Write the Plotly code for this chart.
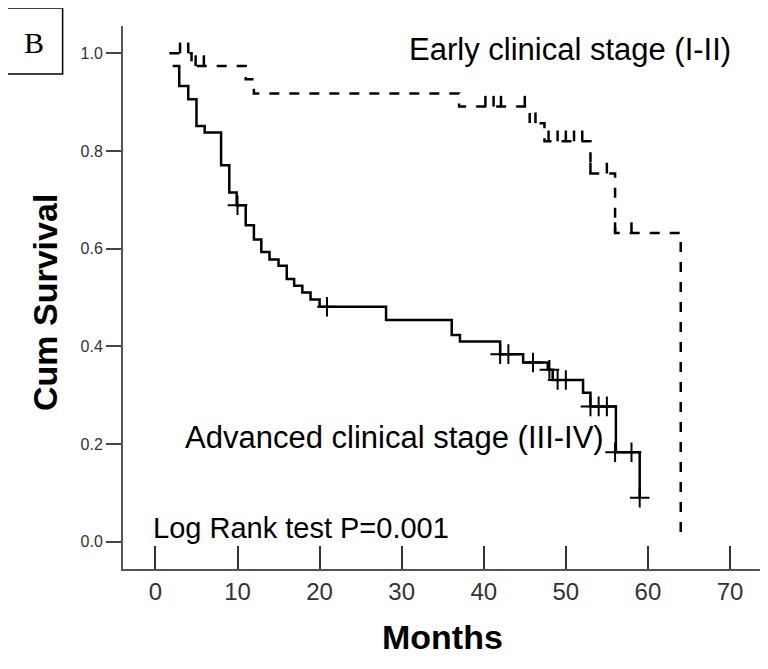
import plotly.graph_objects as go

# ---- data ----
adv_time = [2.1, 2.9, 4.0, 5.0, 6.0, 8.0, 9.0, 9.9, 11.0, 12.0, 12.9, 13.9, 15.0, 16.0, 16.9,
            17.9, 18.9, 20.0, 28.1, 36.1, 37.1, 42.0, 44.8, 47.8, 48.4, 52.1, 53.0, 56.1, 59.0]
adv_surv = [0.974, 0.933, 0.906, 0.851, 0.838, 0.771, 0.715, 0.689, 0.648, 0.619, 0.593, 0.578,
            0.565, 0.538, 0.524, 0.510, 0.496, 0.481, 0.454, 0.423, 0.410, 0.384, 0.367, 0.352,
            0.331, 0.305, 0.277, 0.183, 0.090]
adv_cens_time = [10.0, 20.9, 42.0, 43.0, 46.0, 48.0, 49.0, 50.0, 53.0, 54.0, 55.0, 56.0, 58.0, 59.0]
adv_cens_surv = [0.689, 0.481, 0.384, 0.384, 0.367, 0.352, 0.331, 0.331, 0.277, 0.277, 0.277,
                 0.183, 0.183, 0.090]

early_time = [1.7, 4.4, 11.0, 12.0, 37.0, 45.6, 47.4, 53.0, 56.0, 64.0]
early_surv = [1.000, 0.974, 0.947, 0.918, 0.891, 0.857, 0.820, 0.754, 0.632, 0.000]
early_cens_time = [3.0, 4.0, 4.9, 5.9, 40.2, 41.2, 42.1, 45.0, 46.3, 47.9, 49.0, 50.0, 51.0,
                   52.0, 53.0, 55.0, 56.0, 58.0]
early_cens_surv = [1.0, 1.0, 0.974, 0.974, 0.891, 0.891, 0.891, 0.891, 0.857, 0.820, 0.820,
                   0.820, 0.820, 0.820, 0.754, 0.754, 0.632, 0.632]

x_ticks = [0, 10, 20, 30, 40, 50, 60, 70]
y_ticks = [0.0, 0.2, 0.4, 0.6, 0.8, 1.0]

label_early = "Early clinical stage (I-II)"
label_adv = "Advanced clinical stage (III-IV)"
label_test = "Log Rank test P=0.001"
panel_letter = "B"
x_title = "Months"
y_title = "Cum Survival"

TICK_UP = 0.022  # height of censor tick on dashed curve (style)

fig = go.Figure()

# early stage: dashed step curve
fig.add_trace(go.Scatter(
    x=early_time, y=early_surv, mode="lines", line_shape="hv",
    line=dict(color="black", width=2.5, dash="10px,10px"),
    hoverinfo="skip", showlegend=False))

# censor ticks for early stage (short vertical marks above the line)
cx, cy = [], []
for t, s in zip(early_cens_time, early_cens_surv):
    cx += [t, t, None]
    cy += [s, s + TICK_UP, None]
fig.add_trace(go.Scatter(
    x=cx, y=cy, mode="lines", line=dict(color="black", width=2.5),
    hoverinfo="skip", showlegend=False))

# advanced stage: solid step curve
fig.add_trace(go.Scatter(
    x=adv_time, y=adv_surv, mode="lines", line_shape="hv",
    line=dict(color="black", width=2.5),
    hoverinfo="skip", showlegend=False))

fig.add_trace(go.Scatter(
    x=adv_cens_time, y=adv_cens_surv, mode="markers",
    marker=dict(symbol="cross-thin-open", size=14, color="black",
                line=dict(color="black", width=2)),
    hoverinfo="skip", showlegend=False))

fig.update_layout(
    width=760, height=661,
    margin=dict(l=115, r=6, t=18, b=100),
    paper_bgcolor="white", plot_bgcolor="white",
    font=dict(family="Liberation Sans, Arial, sans-serif", color="black"),
    xaxis=dict(
        range=[-3.95, 73.9], tickvals=x_ticks, ticktext=[str(v) for v in x_ticks],
        ticks="inside", ticklen=23, tickwidth=2, tickcolor="#333",
        showline=True, linecolor="#555", linewidth=2,
        showgrid=False, zeroline=False, automargin=False,
        tickfont=dict(size=24, color="#333"),
    ),
    yaxis=dict(
        range=[-0.056, 1.056], tickvals=y_ticks, ticktext=[f"{v:.1f}" for v in y_ticks],
        ticks="outside", ticklen=15, tickwidth=2, tickcolor="#444",
        showline=True, linecolor="#555", linewidth=2,
        showgrid=False, zeroline=False, automargin=False,
        tickfont=dict(size=16, color="#333"),
    ),
    annotations=[
        dict(text=label_early, x=30.6, y=1.007, xref="x", yref="y", xanchor="left",
             yanchor="middle", showarrow=False, font=dict(size=31, color="black")),
        dict(text=label_adv, x=3.35, y=0.213, xref="x", yref="y", xanchor="left",
             yanchor="middle", showarrow=False, font=dict(size=31, color="black")),
        dict(text=label_test, x=-0.5, y=0.027, xref="x", yref="y", xanchor="left",
             yanchor="middle", showarrow=False, font=dict(size=29, color="black")),
        dict(text=f"<b>{x_title}</b>", x=0.5, y=-0.125, xref="paper", yref="paper",
             xanchor="center", yanchor="middle", showarrow=False,
             font=dict(size=34, color="black")),
        dict(text=f"<b>{y_title}</b>", x=-0.122, y=0.49, xref="paper", yref="paper",
             xanchor="center", yanchor="middle", textangle=-90, showarrow=False,
             font=dict(size=34, color="black")),
        dict(text=panel_letter, x=-0.1399, y=0.9689, xref="paper", yref="paper",
             xanchor="center", yanchor="middle", showarrow=False,
             font=dict(size=30, color="black", family="Liberation Serif, Times New Roman, serif")),
    ],
    shapes=[
        dict(type="rect", xref="paper", yref="paper", x0=-0.1853, x1=-0.0945,
             y0=0.9116, y1=1.0331, line=dict(color="black", width=1.5)),
    ],
)

fig.write_html("out.html")
